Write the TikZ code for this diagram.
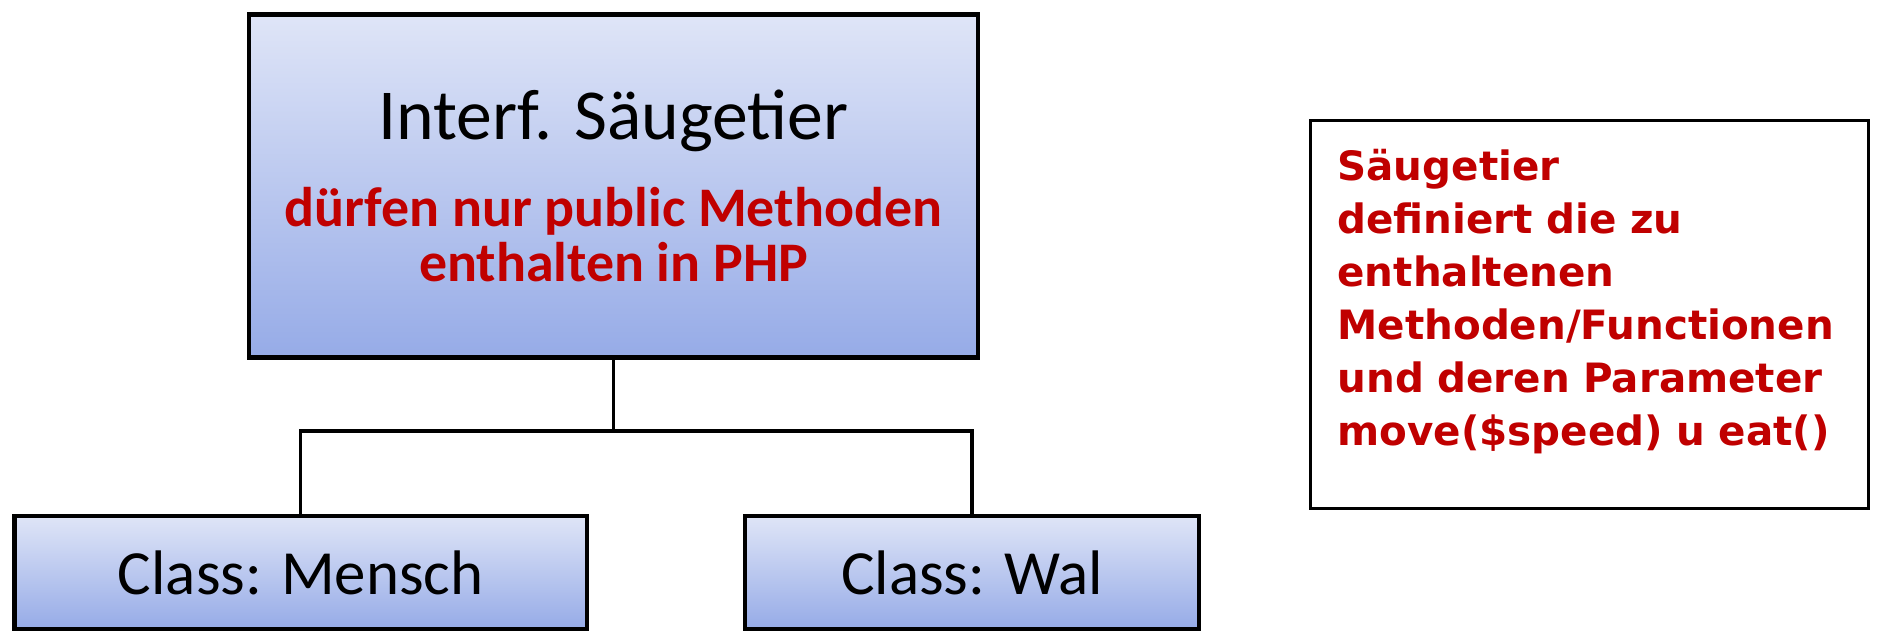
\documentclass[tikz,border=0pt]{standalone}
\usepackage{fontspec}
\setmainfont{Carlito}
\newfontfamily\notefont{DejaVu Sans}
\usetikzlibrary{positioning}
\definecolor{darkred}{RGB}{192,0,0}
\definecolor{boxtop}{RGB}{223,229,247}
\definecolor{boxbottom}{RGB}{150,171,231}
\newcommand{\redpart}{\color{darkred}\bfseries\fontsize{15.9}{19}\selectfont}

\begin{document}
\begin{tikzpicture}[x=0.1mm, y=-0.1mm,
		classbox/.style={draw, line width=1.3pt, top color=boxtop, bottom color=boxbottom, align=center},
		notebox/.style={draw, line width=0.85pt, fill=white, align=left, text width=50.3mm, text=darkred, font=\notefont\bfseries\fontsize{11.5}{15.1}\selectfont},
		connector/.style={line width=1pt}
	]
		\useasboundingbox (0,0) rectangle (1890,641);
		\node[classbox, minimum width=72.9mm, minimum height=34.35mm] (interface) at (613.5, 186) {\fontsize{20.4}{24}\selectfont Interf. Säugetier\\[9pt] \redpart dürfen nur public Methoden\\[1.2pt] \redpart enthalten in PHP};
		\node[classbox, minimum width=57.25mm, minimum height=11.3mm, font=\fontsize{17.9}{21}\selectfont] (mensch) at (300.7, 572.5) {Class: Mensch};
		\node[classbox, minimum width=45.4mm, minimum height=11.3mm, font=\fontsize{17.9}{21}\selectfont] (wal) at (972, 572.5) {Class: Wal};
		\node[notebox, minimum width=55.8mm, minimum height=38.8mm] (note) at (1589, 314.5) {Säugetier\\ definiert die zu\\ enthaltenen\\ Methoden/Functionen\\ und deren Parameter\\ move(\$speed) u eat()\par\vspace{7.4pt}};
		
		\coordinate (fork) at (613.5, 431);
		\draw[connector] (interface.south) -- (fork) -| (mensch.north);
		\draw[connector] (fork) -| (wal.north);
	\end{tikzpicture}
\end{document}
